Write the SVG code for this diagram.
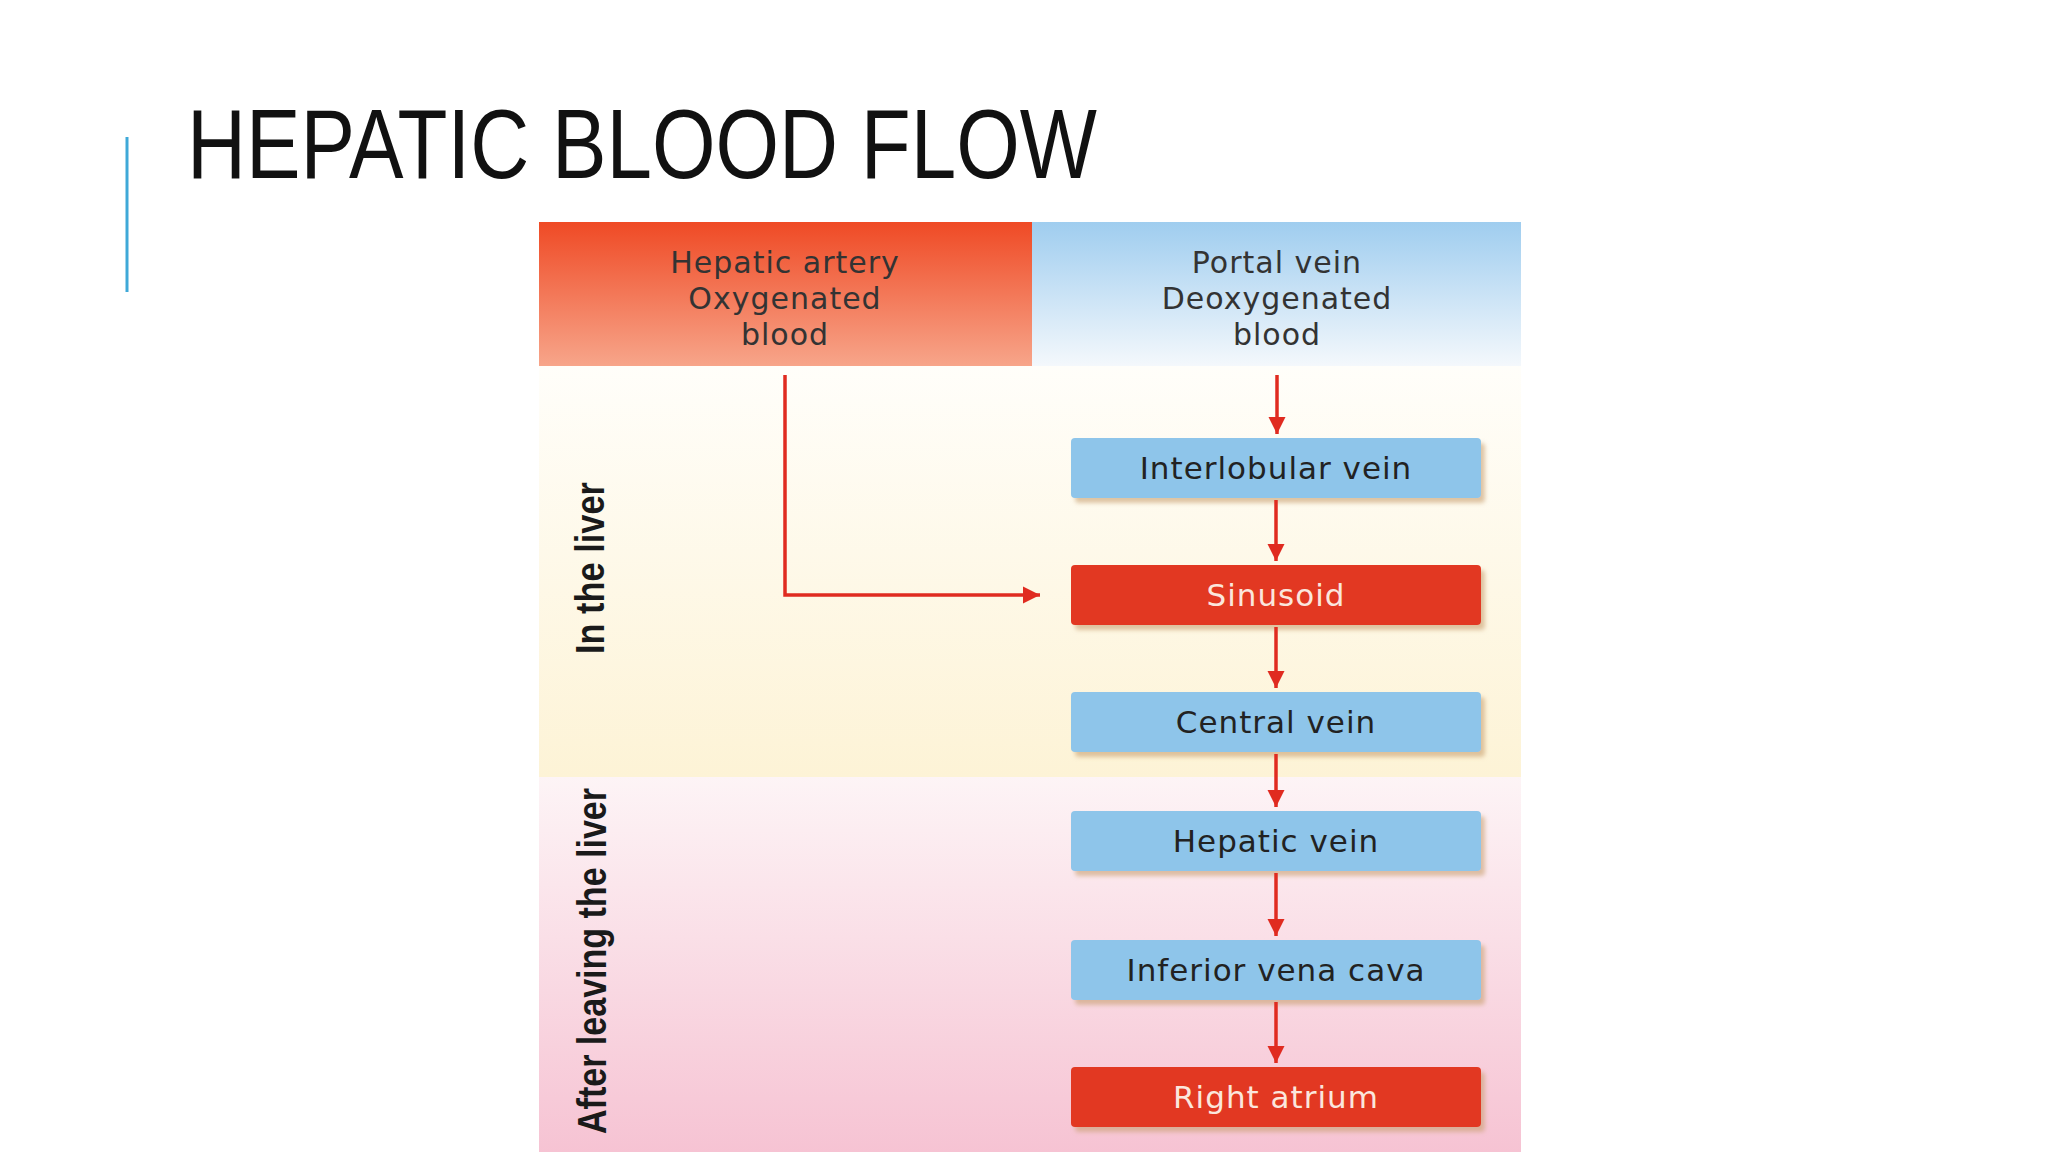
<svg xmlns="http://www.w3.org/2000/svg" width="2048" height="1152" viewBox="0 0 2048 1152">
<defs>
<linearGradient id="gRed" x1="0" y1="0" x2="0" y2="1"><stop offset="0" stop-color="#ef4a25"/><stop offset="1" stop-color="#f7a58a"/></linearGradient>
<linearGradient id="gBlue" x1="0" y1="0" x2="0" y2="1"><stop offset="0" stop-color="#9fcdef"/><stop offset="1" stop-color="#f4f8fc"/></linearGradient>
<linearGradient id="gCream" x1="0" y1="0" x2="0" y2="1"><stop offset="0" stop-color="#fffefa"/><stop offset="1" stop-color="#fdf3d6"/></linearGradient>
<linearGradient id="gPink" x1="0" y1="0" x2="0" y2="1"><stop offset="0" stop-color="#fdf4f6"/><stop offset="1" stop-color="#f6c3d3"/></linearGradient>
<marker id="ah" viewBox="0 0 10 10" refX="10" refY="5" markerWidth="5" markerHeight="5" orient="auto"><path d="M0,0 L10,5 L0,10 z" fill="#e02b20"/></marker>
<filter id="sh" x="-5%" y="-20%" width="115%" height="160%"><feDropShadow dx="4" dy="5" stdDeviation="2" flood-color="#c9a070" flood-opacity="0.6"/></filter>
</defs>
<style>
.blue{fill:#8ec5ea;filter:url(#sh)}
.red{fill:#e23822;filter:url(#sh)}
.t{font-family:"DejaVu Sans","Liberation Sans",sans-serif;font-size:31px;letter-spacing:1px;text-anchor:middle;fill:#222}
.tw{font-family:"DejaVu Sans","Liberation Sans",sans-serif;font-size:31px;letter-spacing:1px;text-anchor:middle;fill:#fbe6dd}
.h{font-family:"DejaVu Sans","Liberation Sans",sans-serif;font-size:30px;letter-spacing:1px;text-anchor:middle;fill:#333}
.v{font-family:"Liberation Sans",Arial,sans-serif;font-size:40px;font-weight:bold;text-anchor:middle;fill:#1a1a1a}
.c{stroke:#e02b20;stroke-width:3.5;fill:none;marker-end:url(#ah)}
</style>
<rect width="2048" height="1152" fill="#fff"/>
<line x1="127" y1="137" x2="127" y2="292" stroke="#3fa9d8" stroke-width="3"/>
<text x="187" y="178" font-family="Liberation Sans, Arial, sans-serif" font-size="98" fill="#111" textLength="910" lengthAdjust="spacingAndGlyphs">HEPATIC BLOOD FLOW</text>
<rect x="539" y="366" width="982" height="411" fill="url(#gCream)"/>
<rect x="539" y="777" width="982" height="375" fill="url(#gPink)"/>
<g id="artery"><rect x="539" y="222" width="493" height="144" fill="url(#gRed)"/>
<text class="h" x="785" y="273">Hepatic artery</text><text class="h" x="785" y="309">Oxygenated</text><text class="h" x="785" y="345">blood</text></g>
<g id="portal"><rect x="1032" y="222" width="489" height="144" fill="url(#gBlue)"/>
<text class="h" x="1277" y="273">Portal vein</text><text class="h" x="1277" y="309">Deoxygenated</text><text class="h" x="1277" y="345">blood</text></g>
<g id="lab1"><text class="v" transform="translate(604,568) rotate(-90)" textLength="172" lengthAdjust="spacingAndGlyphs">In the liver</text></g>
<g id="lab2"><text class="v" transform="translate(606,961) rotate(-90)" textLength="346" lengthAdjust="spacingAndGlyphs">After leaving the liver</text></g>
<g id="n1"><rect class="blue" x="1071" y="438" width="410" height="60" rx="4"/><text class="t" x="1276" y="479">Interlobular vein</text></g>
<g id="n2"><rect class="red" x="1071" y="565" width="410" height="60" rx="4"/><text class="tw" x="1276" y="606">Sinusoid</text></g>
<g id="n3"><rect class="blue" x="1071" y="692" width="410" height="60" rx="4"/><text class="t" x="1276" y="733">Central vein</text></g>
<g id="n4"><rect class="blue" x="1071" y="811" width="410" height="60" rx="4"/><text class="t" x="1276" y="852">Hepatic vein</text></g>
<g id="n5"><rect class="blue" x="1071" y="940" width="410" height="60" rx="4"/><text class="t" x="1276" y="981">Inferior vena cava</text></g>
<g id="n6"><rect class="red" x="1071" y="1067" width="410" height="60" rx="4"/><text class="tw" x="1276" y="1108">Right atrium</text></g>
<g id="connectors">
<path class="c" d="M1277 375 V434"/>
<path class="c" d="M1276 500 V561"/>
<path class="c" d="M1276 627 V688"/>
<path class="c" d="M1276 754 V807"/>
<path class="c" d="M1276 873 V936"/>
<path class="c" d="M1276 1002 V1063"/>
<path class="c" d="M785 375 V595 H1040"/>
</g>
</svg>
